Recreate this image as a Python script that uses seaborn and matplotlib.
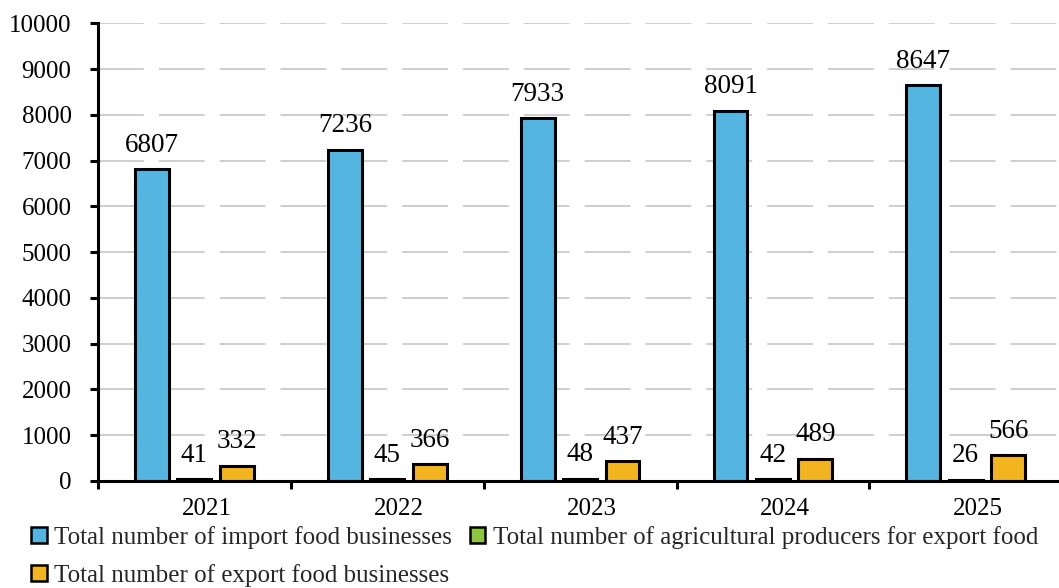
import numpy as np
import pandas as pd
import matplotlib
matplotlib.use("Agg")
import matplotlib.pyplot as plt
from matplotlib.patches import Patch
from matplotlib.transforms import ScaledTranslation
import seaborn as sns

years = ["2021", "2022", "2023", "2024", "2025"]
import_businesses = [6807, 7236, 7933, 8091, 8647]
agri_producers = [41, 45, 48, 42, 26]
export_businesses = [332, 366, 437, 489, 566]

series_names = [
    "Total number of import food businesses",
    "Total number of agricultural producers for export food",
    "Total number of export food businesses",
]
colors = ["#55B5E1", "#8CC63F", "#F2B51F"]
y_ticks = [0, 1000, 2000, 3000, 4000, 5000, 6000, 7000, 8000, 9000, 10000]

df = pd.DataFrame({
    "year": years * 3,
    "value": import_businesses + agri_producers + export_businesses,
    "series": [series_names[0]] * 5 + [series_names[1]] * 5 + [series_names[2]] * 5,
})

sns.set_style("white")
plt.rcParams["font.family"] = ["Liberation Serif", "DejaVu Serif"]

fig = plt.figure(figsize=(10.59, 5.88), dpi=100)
ax = fig.add_axes([98 / 1059, 0.182, 1.003 - 98 / 1059, 0.9604 - 0.182])

sns.barplot(
    data=df, x="year", y="value", hue="series", hue_order=series_names,
    palette=colors, width=0.66, gap=0.2, edgecolor="black", linewidth=2.2,
    legend=False, ax=ax, errorbar=None, saturation=1,
)

# value labels above each bar
for container in ax.containers:
    for rect in container:
        h = rect.get_height()
        ax.annotate(f"{int(round(h))}", (rect.get_x() + rect.get_width() / 2, h),
                    xytext=(0, 12.5), textcoords="offset points",
                    ha="center", va="baseline", fontsize=19.5, color="black")

ax.set_xlim(-0.5, len(years) - 0.5)
ax.set_ylim(0, 10000)
ax.set_yticks(y_ticks)
ax.set_yticklabels([str(t) for t in y_ticks])
ax.set_xlabel("")
ax.set_ylabel("")

# dashed horizontal grid
for t in y_ticks[1:]:
    ax.axhline(t, color="#C6C6C6", linewidth=1.2, linestyle=(0, (27.5, 9.0)), zorder=0)
ax.set_axisbelow(True)

for side in ["top", "right"]:
    ax.spines[side].set_visible(False)
for side in ["left", "bottom"]:
    ax.spines[side].set_linewidth(2.2)
    ax.spines[side].set_color("black")

ax.tick_params(axis="y", direction="out", length=6, width=2.2, pad=13,
               labelsize=18, colors="black", left=True)
ax.tick_params(axis="x", which="major", length=0, pad=12, labelsize=18, colors="black")
ax.set_xticks(np.arange(-0.5, len(years)), minor=True)
ax.tick_params(axis="x", which="minor", direction="out", length=6, width=2.2,
               bottom=True, colors="black")

offset = ScaledTranslation(12 / 100, 0, fig.dpi_scale_trans)
for lab in ax.get_xticklabels():
    lab.set_transform(lab.get_transform() + offset)

handles = [Patch(facecolor=c, edgecolor="black", linewidth=1.8) for c in colors]
order = [0, 2, 1]
fig.legend([handles[i] for i in order], [series_names[i] for i in order],
           loc="upper left", bbox_to_anchor=(31 / 1059, 1 - 526 / 588),
           ncol=2, frameon=False, fontsize=18, borderpad=0, borderaxespad=0,
           handlelength=0.62, handleheight=0.62, handletextpad=0.32,
           columnspacing=0.7, labelspacing=0.6)

fig.savefig("out.png", dpi=100)
